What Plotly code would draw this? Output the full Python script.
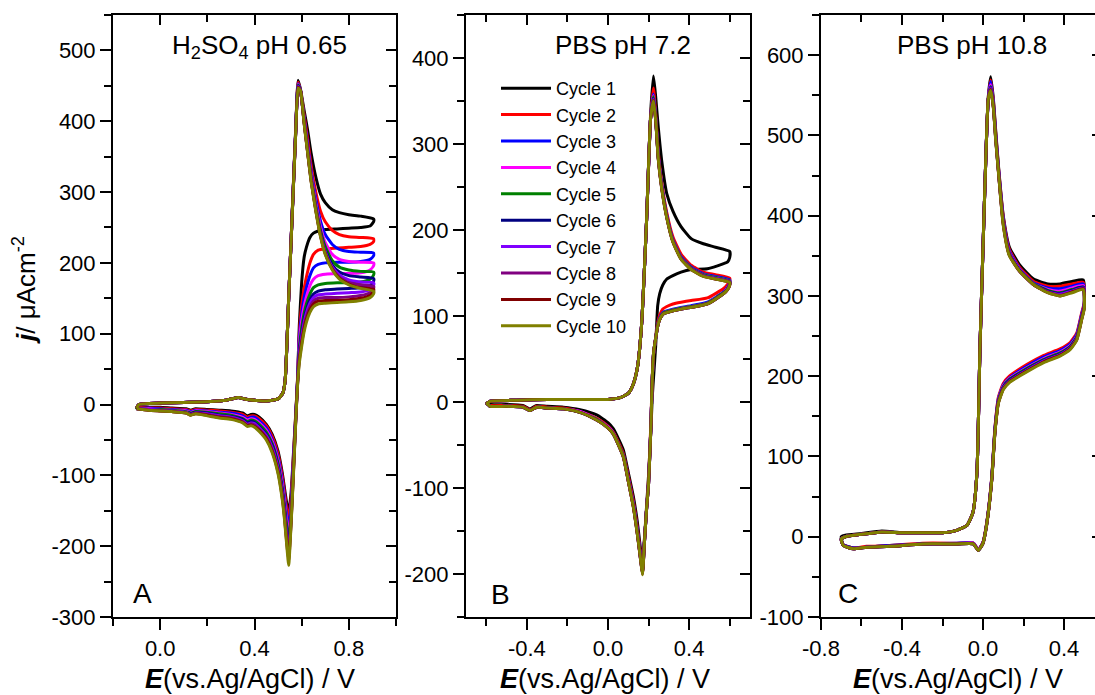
import plotly.graph_objects as go

# ---------------- common ----------------
CYCLE_NAMES = ["Cycle 1", "Cycle 2", "Cycle 3", "Cycle 4", "Cycle 5",
               "Cycle 6", "Cycle 7", "Cycle 8", "Cycle 9", "Cycle 10"]
CYCLE_COLORS = ["#000000", "#FF0000", "#0000FF", "#FF00FF", "#008000",
                "#000080", "#8000FF", "#800080", "#800000", "#808000"]
PANEL_TITLES = ["H<sub>2</sub>SO<sub>4</sub> pH 0.65", "PBS pH 7.2", "PBS pH 10.8"]
PANEL_LABELS = ["A", "B", "C"]

# tick values / labels
A_XTICKS = [0.0, 0.4, 0.8]
A_XLABELS = ["0.0", "0.4", "0.8"]
A_YTICKS = [-300, -200, -100, 0, 100, 200, 300, 400, 500]
A_YLABELS = ["-300", "-200", "-100", "0", "100", "200", "300", "400", "500"]
B_XTICKS = [-0.4, 0.0, 0.4]
B_XLABELS = ["-0.4", "0.0", "0.4"]
B_YTICKS = [-200, -100, 0, 100, 200, 300, 400]
B_YLABELS = ["-200", "-100", "0", "100", "200", "300", "400"]
C_XTICKS = [-0.8, -0.4, 0.0, 0.4]
C_XLABELS = ["-0.8", "-0.4", "0.0", "0.4"]
C_YTICKS = [-100, 0, 100, 200, 300, 400, 500, 600]
C_YLABELS = ["-100", "0", "100", "200", "300", "400", "500", "600"]

# ---------------- panel A: H2SO4 pH 0.65 ----------------
A_E_fwd = [-0.10, -0.09, 0.00, 0.10, 0.20, 0.28, 0.33, 0.37, 0.45, 0.50, 0.52, 0.53,
           0.545, 0.56, 0.575, 0.585, 0.595, 0.61, 0.625, 0.64, 0.66, 0.68, 0.70,
           0.73, 0.76, 0.80, 0.85, 0.905]
A_j_fwd = [
    [-5, 0, 2, 3, 4, 6, 10, 7, 5, 8, 16, 34, 150, 272, 392, 458, 445, 416, 388, 355, 321, 297, 285, 275, 271, 268, 266, 262],
    [-5, 0, 2, 3, 4, 6, 10, 7, 5, 8, 16, 34, 150, 271, 390, 455, 444, 410, 375, 338, 300, 273, 258, 246, 240, 237, 236, 234],
    [-5, 0, 2, 3, 4, 6, 10, 7, 5, 8, 16, 34, 150, 270, 389, 453, 444, 406, 368, 330, 290, 259, 240, 226, 219, 216, 215, 214],
    [-5, 0, 2, 3, 4, 6, 10, 7, 5, 8, 16, 34, 150, 270, 388, 452, 443, 404, 364, 325, 284, 251, 229, 212, 205, 202, 201, 200],
    [-5, 0, 2, 3, 4, 6, 10, 7, 5, 8, 16, 34, 150, 270, 388, 451, 443, 402, 361, 322, 280, 246, 223, 203, 194, 190, 188, 187],
    [-5, 0, 2, 3, 4, 6, 10, 7, 5, 8, 16, 34, 150, 269, 387, 450, 443, 401, 359, 319, 277, 242, 218, 197, 187, 182, 180, 178],
    [-5, 0, 2, 3, 4, 6, 10, 7, 5, 8, 16, 34, 150, 269, 387, 449, 443, 400, 358, 318, 276, 240, 216, 194, 183, 176, 173, 172],
    [-5, 0, 2, 3, 4, 6, 10, 7, 5, 8, 16, 34, 150, 269, 386, 448, 443, 399, 357, 317, 275, 239, 214, 192, 180, 172, 169, 167],
    [-5, 0, 2, 3, 4, 6, 10, 7, 5, 8, 16, 34, 150, 268, 386, 448, 443, 399, 357, 316, 274, 238, 213, 191, 178, 170, 165, 163],
    [-5, 0, 2, 3, 4, 6, 10, 7, 5, 8, 16, 34, 150, 268, 385, 447, 443, 398, 356, 315, 273, 237, 212, 190, 177, 169, 164, 160],
]
A_E_rev = [0.905, 0.89, 0.85, 0.80, 0.75, 0.70, 0.67, 0.65, 0.635, 0.62, 0.61, 0.60, 0.59,
           0.583, 0.575, 0.565, 0.555, 0.545, 0.537, 0.528, 0.518, 0.50, 0.475, 0.45, 0.42,
           0.40, 0.385, 0.37, 0.35, 0.30, 0.25, 0.20, 0.15, 0.13, 0.11, 0.05, 0.0, -0.05, -0.10]
A_j_rev = [
    [258, 252, 250, 249, 248, 247, 245, 242, 236, 222, 207, 172, 112,
     40, -12, -70, -125, -152, -140, -120, -97, -66, -42, -28, -18, -14, -14, -16, -12, -9, -8, -7, -6, -8, -6, -5, -4, -4, -4],
    [230, 226, 223, 222, 221, 220, 218, 212, 200, 180, 163, 140, 100,
     38, -14, -75, -133, -160, -148, -126, -102, -70, -45, -30, -20, -16, -16, -18, -14, -11, -9, -8, -7, -9, -7, -6, -5, -5, -4],
    [210, 205, 202, 201, 201, 200, 198, 193, 182, 165, 150, 128, 95,
     37, -16, -80, -142, -175, -158, -133, -108, -75, -49, -33, -23, -18, -18, -20, -16, -12, -11, -9, -8, -10, -8, -7, -6, -5, -5],
    [196, 190, 186, 185, 185, 184, 182, 177, 168, 152, 138, 118, 88,
     36, -17, -84, -148, -185, -166, -139, -113, -79, -52, -36, -26, -21, -20, -22, -18, -14, -12, -10, -9, -11, -9, -8, -7, -6, -5],
    [183, 177, 173, 172, 172, 171, 169, 165, 156, 142, 128, 108, 80,
     35, -18, -87, -153, -195, -174, -145, -118, -83, -55, -39, -28, -23, -22, -24, -20, -15, -13, -11, -10, -12, -10, -8, -7, -7, -5],
    [174, 168, 165, 164, 163, 162, 160, 156, 148, 134, 120, 100, 74,
     34, -19, -90, -158, -203, -181, -150, -122, -87, -58, -42, -31, -25, -24, -26, -21, -17, -15, -12, -11, -13, -11, -9, -8, -7, -6],
    [168, 162, 159, 158, 157, 156, 155, 151, 143, 129, 115, 95, 70,
     33, -20, -93, -162, -210, -187, -155, -126, -90, -61, -44, -33, -27, -26, -28, -23, -18, -16, -13, -12, -14, -11, -9, -8, -7, -6],
    [164, 158, 154, 152, 151, 151, 150, 146, 138, 124, 110, 90, 66,
     32, -21, -95, -165, -215, -192, -159, -129, -93, -64, -46, -35, -29, -27, -29, -24, -19, -17, -14, -12, -14, -12, -10, -9, -8, -6],
    [160, 154, 150, 148, 147, 147, 146, 142, 134, 120, 106, 86, 62,
     31, -22, -97, -168, -220, -196, -162, -132, -96, -66, -48, -36, -31, -29, -30, -25, -20, -18, -15, -13, -15, -12, -10, -9, -8, -6],
    [156, 151, 147, 145, 144, 143, 142, 138, 130, 116, 102, 82, 58,
     30, -23, -100, -170, -227, -200, -165, -135, -98, -68, -50, -38, -32, -30, -31, -26, -21, -19, -16, -13, -15, -12, -10, -9, -8, -6],
]

# ---------------- panel B: PBS pH 7.2 ----------------
B_E_fwd = [-0.60, -0.58, -0.45, -0.30, -0.15, 0.00, 0.06, 0.10, 0.125, 0.145, 0.165, 0.19,
           0.21, 0.224, 0.235, 0.248, 0.265, 0.29, 0.32, 0.36, 0.41, 0.47, 0.53, 0.60]
B_j_fwd = [
    [-2, 1, 2, 3, 3, 3, 5, 10, 21, 40, 88, 210, 335, 379, 355, 319, 280, 242, 222, 204, 190, 184, 180, 175],
    [-2, 1, 2, 3, 3, 3, 5, 10, 21, 40, 88, 210, 330, 365, 335, 290, 255, 220, 192, 172, 159, 151, 148, 144],
    [-2, 1, 2, 3, 3, 3, 5, 10, 21, 40, 88, 210, 330, 358, 331, 286, 252, 217, 189, 169, 157, 149, 146, 142],
    [-2, 1, 2, 3, 3, 3, 5, 10, 21, 40, 88, 210, 330, 356, 330, 285, 251, 216, 188, 168, 156, 148, 145, 141],
    [-2, 1, 2, 3, 3, 3, 5, 10, 21, 40, 88, 210, 330, 355, 330, 284, 250, 216, 188, 168, 156, 148, 145, 141],
    [-2, 1, 2, 3, 3, 3, 5, 10, 21, 40, 88, 210, 330, 353, 329, 284, 250, 215, 187, 167, 155, 147, 144, 140],
    [-2, 1, 2, 3, 3, 3, 5, 10, 21, 40, 88, 210, 330, 352, 329, 283, 249, 215, 187, 167, 155, 147, 144, 140],
    [-2, 1, 2, 3, 3, 3, 5, 10, 21, 40, 88, 210, 330, 351, 328, 283, 249, 215, 187, 167, 155, 147, 143, 140],
    [-2, 1, 2, 3, 3, 3, 5, 10, 21, 40, 88, 210, 330, 351, 328, 282, 248, 214, 186, 166, 154, 146, 143, 139],
    [-2, 1, 2, 3, 3, 3, 5, 10, 21, 40, 88, 210, 330, 350, 328, 282, 248, 214, 186, 166, 154, 146, 143, 139],
]
B_E_rev = [0.60, 0.59, 0.57, 0.49, 0.41, 0.36, 0.32, 0.29, 0.27, 0.255, 0.245, 0.235, 0.225,
           0.218, 0.212, 0.20, 0.19, 0.18, 0.17, 0.16, 0.145, 0.125, 0.10, 0.076, 0.05, 0.026,
           0.0, -0.056, -0.138, -0.22, -0.30, -0.352, -0.385, -0.42, -0.50, -0.58, -0.60]
B_j_rev = [
    [168, 163, 161, 155, 154, 151, 147, 143, 136, 126, 112, 65, 30, 5, -30, -85, -122, -158, -184, -170, -140, -110, -82, -56, -42, -31, -24, -15, -9, -6, -5, -4, -8, -4, -3, -3, -1],
    [141, 137, 132, 121, 118, 116, 114, 111, 108, 101, 92, 75, 55, 28, -20, -90, -124, -160, -192, -176, -147, -115, -86, -60, -46, -35, -28, -19, -11, -7, -6, -5, -9, -5, -4, -4, -1],
    [139, 134, 128, 116, 112, 110, 108, 106, 104, 98, 90, 74, 57, 26, -23, -93, -125, -161, -196, -179, -150, -118, -89, -62, -48, -36, -29, -20, -11, -8, -7, -6, -10, -6, -5, -5, -1],
    [138, 133, 127, 115, 111, 109, 107, 105, 103, 97, 89, 74, 57, 26, -24, -94, -125, -161, -197, -180, -151, -119, -90, -63, -48, -36, -29, -20, -11, -8, -7, -6, -10, -6, -5, -5, -1],
    [137, 132, 127, 115, 111, 109, 107, 105, 103, 97, 89, 74, 57, 26, -24, -94, -125, -161, -198, -181, -152, -120, -91, -63, -48, -37, -30, -20, -12, -8, -7, -6, -10, -6, -5, -5, -1],
    [137, 132, 126, 114, 110, 108, 106, 104, 102, 96, 88, 74, 58, 25, -25, -95, -125, -162, -199, -181, -153, -121, -91, -64, -49, -37, -30, -21, -12, -8, -7, -6, -10, -6, -5, -5, -1],
    [136, 131, 126, 114, 110, 108, 106, 104, 102, 96, 88, 74, 58, 25, -25, -95, -125, -162, -199, -182, -153, -121, -92, -64, -49, -37, -30, -21, -12, -8, -7, -6, -10, -6, -5, -5, -1],
    [136, 131, 126, 114, 110, 108, 106, 104, 102, 96, 88, 74, 58, 25, -25, -95, -125, -162, -200, -182, -154, -122, -92, -64, -49, -37, -30, -21, -12, -8, -7, -6, -10, -6, -5, -5, -1],
    [136, 131, 126, 114, 110, 108, 106, 104, 102, 96, 88, 74, 58, 25, -25, -95, -125, -162, -200, -182, -154, -122, -92, -64, -49, -37, -30, -21, -12, -8, -7, -6, -10, -6, -5, -5, -1],
    [136, 131, 126, 114, 110, 108, 106, 104, 102, 96, 88, 74, 58, 25, -25, -95, -125, -162, -201, -182, -154, -122, -92, -64, -49, -37, -30, -21, -12, -8, -7, -6, -10, -6, -5, -5, -1],
]

# ---------------- panel C: PBS pH 10.8 ----------------
C_E_fwd = [-0.70, -0.68, -0.60, -0.50, -0.40, -0.30, -0.20, -0.13, -0.08, -0.05, -0.03, -0.015,
           0.0, 0.015, 0.026, 0.038, 0.051, 0.063, 0.076, 0.10, 0.13, 0.18, 0.25, 0.32, 0.38,
           0.44, 0.495]
C_j_fwd = [
    [0, 2, 4, 7, 5, 5, 5, 8, 14, 30, 80, 235, 362, 482, 548, 573, 546, 505, 463, 400, 361, 339, 321, 315, 315, 318, 320],
    [-3, 0, 3, 6, 5, 5, 5, 8, 14, 30, 80, 235, 360, 480, 546, 569, 543, 502, 461, 398, 358, 336, 318, 312, 312, 315, 317],
    [-3, 0, 3, 6, 5, 5, 5, 8, 14, 30, 80, 235, 360, 480, 545, 567, 541, 500, 460, 396, 356, 334, 316, 310, 309, 312, 315],
    [-3, 0, 3, 6, 5, 5, 5, 8, 14, 30, 80, 235, 360, 480, 545, 563, 539, 498, 458, 394, 354, 333, 315, 308, 306, 310, 313],
    [-3, 0, 3, 6, 5, 5, 5, 8, 14, 30, 80, 235, 360, 480, 545, 561, 538, 497, 457, 393, 353, 332, 315, 307, 304, 308, 311],
    [-3, 0, 3, 6, 5, 5, 5, 8, 14, 30, 80, 235, 360, 480, 545, 560, 537, 496, 457, 392, 352, 332, 314, 306, 303, 307, 311],
    [-3, 0, 3, 6, 5, 5, 5, 8, 14, 30, 80, 235, 360, 480, 545, 559, 536, 495, 456, 391, 352, 331, 314, 305, 302, 306, 310],
    [-3, 0, 3, 6, 5, 5, 5, 8, 14, 30, 80, 235, 360, 480, 545, 558, 536, 495, 456, 390, 351, 331, 314, 305, 301, 305, 309],
    [-3, 0, 3, 6, 5, 5, 5, 8, 14, 30, 80, 235, 360, 480, 545, 557, 535, 494, 455, 389, 351, 331, 314, 304, 300, 305, 309],
    [-3, 0, 3, 6, 5, 5, 5, 8, 14, 30, 80, 235, 360, 480, 545, 556, 535, 493, 455, 388, 350, 331, 314, 304, 300, 304, 308],
]
C_E_rev = [0.50, 0.487, 0.463, 0.43, 0.38, 0.30, 0.22, 0.13, 0.10, 0.076, 0.059, 0.043, 0.018,
           0.0, -0.023, -0.048, -0.13, -0.30, -0.46, -0.575, -0.64, -0.69, -0.70]
C_j_rev = [
    [290, 274, 249, 236, 228, 220, 209, 195, 186, 169, 132, 72, 16, -7, -16, -8, -9, -9, -11, -13, -14, -10, 0],
    [292, 279, 254, 242, 234, 226, 215, 200, 191, 174, 136, 74, 17, -7, -16, -8, -8, -8, -11, -12, -14, -10, -3],
    [290, 277, 252, 240, 232, 224, 213, 198, 189, 172, 135, 73, 16, -7, -16, -8, -8, -9, -11, -13, -14, -10, -3],
    [289, 275, 250, 238, 230, 222, 211, 197, 188, 171, 134, 72, 16, -7, -16, -8, -9, -9, -12, -13, -15, -11, -3],
    [288, 274, 249, 237, 229, 221, 210, 196, 187, 170, 133, 72, 16, -8, -17, -9, -9, -9, -12, -13, -15, -11, -3],
    [287, 273, 248, 236, 228, 220, 209, 195, 186, 169, 132, 71, 15, -8, -17, -9, -9, -9, -12, -13, -15, -11, -3],
    [286, 272, 247, 235, 227, 219, 208, 194, 185, 168, 131, 71, 15, -8, -17, -9, -9, -9, -12, -13, -15, -11, -3],
    [286, 271, 246, 234, 226, 218, 207, 193, 184, 167, 131, 70, 15, -8, -17, -9, -9, -9, -12, -13, -15, -11, -3],
    [285, 271, 246, 234, 226, 218, 207, 193, 184, 167, 130, 70, 15, -8, -17, -9, -9, -9, -12, -13, -15, -11, -3],
    [284, 270, 245, 233, 225, 217, 206, 192, 183, 166, 130, 70, 15, -8, -17, -9, -9, -9, -12, -13, -15, -11, -3],
]

# ---------------- axes specs ----------------
X_RANGES = [[-0.2, 1.0], [-0.7, 0.7], [-0.8, 0.553]]
Y_RANGES = [[-300, 550], [-250, 450], [-100, 650]]
X_DOMAINS = [[0.10320, 0.36164], [0.42557, 0.68493], [0.74977, 1.0]]
Y_DOMAIN = [0.11223, 0.97842]
X_TICKS = [(A_XTICKS, A_XLABELS), (B_XTICKS, B_XLABELS), (C_XTICKS, C_XLABELS)]
Y_TICKS = [(A_YTICKS, A_YLABELS), (B_YTICKS, B_YLABELS), (C_YTICKS, C_YLABELS)]

FONT = "Liberation Sans, Arial, Helvetica, sans-serif"
W, H = 1095, 695

fig = go.Figure()

panels = [
    (A_E_fwd, A_j_fwd, A_E_rev, A_j_rev),
    (B_E_fwd, B_j_fwd, B_E_rev, B_j_rev),
    (C_E_fwd, C_j_fwd, C_E_rev, C_j_rev),
]
for p, (Ef, jf, Er, jr) in enumerate(panels):
    xa = "x" if p == 0 else f"x{p+1}"
    ya = "y" if p == 0 else f"y{p+1}"
    for k in range(10):
        fig.add_trace(go.Scatter(
            x=list(Ef) + list(Er), y=list(jf[k]) + list(jr[k]),
            xaxis=xa, yaxis=ya, mode="lines",
            line=dict(color=CYCLE_COLORS[k], width=3, shape="spline", smoothing=0.5),
            name=CYCLE_NAMES[k], showlegend=(p == 1), hoverinfo="skip",
        ))

tick_common = dict(showline=True, linecolor="black", linewidth=2, mirror=False,
                   showgrid=False, zeroline=False, ticks="outside", ticklen=11,
                   tickwidth=2, tickcolor="black",
                   tickfont=dict(family=FONT, size=22, color="black"),
                   automargin=False)

layout = dict(width=W, height=H, margin=dict(l=0, r=0, t=0, b=0),
              plot_bgcolor="white", paper_bgcolor="white",
              font=dict(family=FONT, color="black"))

for p in range(3):
    sx = "" if p == 0 else str(p + 1)
    xt, xl = X_TICKS[p]
    yt, yl = Y_TICKS[p]
    layout["xaxis" + sx] = dict(tick_common, domain=X_DOMAINS[p], range=X_RANGES[p],
                                anchor="y" + sx, tickmode="array", tickvals=xt, ticktext=xl,
                                minor=dict(ticks="outside", ticklen=7, tickwidth=2,
                                           tickcolor="black", tickmode="linear",
                                           tick0=0, dtick=0.2))
    layout["yaxis" + sx] = dict(tick_common, domain=Y_DOMAIN, range=Y_RANGES[p],
                                anchor="x" + sx, tickmode="array", tickvals=yt, ticktext=yl,
                                minor=dict(ticks="outside", ticklen=7, tickwidth=2,
                                           tickcolor="black", tickmode="linear",
                                           tick0=0, dtick=50))
    # mirrored frame with inward ticks
    ox = str(p + 4)
    layout["xaxis" + ox] = dict(overlaying="x" + sx, anchor="y" + sx, side="top",
                                range=X_RANGES[p], showline=True, linecolor="black",
                                linewidth=2, showgrid=False, zeroline=False,
                                ticks="inside", ticklen=10, tickwidth=2, tickcolor="black",
                                tickmode="array", tickvals=xt, showticklabels=False,
                                minor=dict(ticks="inside", ticklen=7, tickwidth=2,
                                           tickcolor="black", tickmode="linear",
                                           tick0=0, dtick=0.2))
    right = dict(overlaying="y" + sx, anchor="x" + sx, side="right",
                 range=Y_RANGES[p], showline=(p != 2), linecolor="black",
                 linewidth=2, showgrid=False, zeroline=False,
                 ticks="inside", ticklen=(10 if p != 2 else 3), tickwidth=2,
                 tickcolor="black", tickmode="array", tickvals=yt, showticklabels=False)
    if p != 2:
        right["minor"] = dict(ticks="inside", ticklen=7, tickwidth=2,
                              tickcolor="black", tickmode="linear", tick0=0, dtick=50)
    layout["yaxis" + ox] = right

fig.update_layout(**layout)

# empty traces so the mirror axes are drawn
for p in range(3):
    ox = str(p + 4)
    sx = "" if p == 0 else str(p + 1)
    fig.add_trace(go.Scatter(x=[], y=[], xaxis="x" + ox, yaxis="y" + sx,
                             showlegend=False, hoverinfo="skip"))
    fig.add_trace(go.Scatter(x=[], y=[], xaxis="x" + sx, yaxis="y" + ox,
                             showlegend=False, hoverinfo="skip"))

annotations = []
title_pos = [(259, 47), (623, 45), (972, 45)]
label_pos = [(142, 593), (500, 594), (848, 593)]
xtitle_pos = [(250, 679), (605, 679), (958, 679)]
for p in range(3):
    tx, ty = title_pos[p]
    annotations.append(dict(text=PANEL_TITLES[p], x=tx / W, y=1 - ty / H, xref="paper",
                            yref="paper", showarrow=False, xanchor="center", yanchor="middle",
                            font=dict(family=FONT, size=26, color="black")))
    lx, ly = label_pos[p]
    annotations.append(dict(text=PANEL_LABELS[p], x=lx / W, y=1 - ly / H, xref="paper",
                            yref="paper", showarrow=False, xanchor="center", yanchor="middle",
                            font=dict(family=FONT, size=28, color="black")))
    ax, ay = xtitle_pos[p]
    annotations.append(dict(text="<b><i>E</i></b>(vs.Ag/AgCl) / V", x=ax / W, y=1 - ay / H,
                            xref="paper", yref="paper", showarrow=False, xanchor="center",
                            yanchor="middle", font=dict(family=FONT, size=27, color="black")))
annotations.append(dict(text="<b><i>j</i></b>/ μAcm<sup>-2</sup>", x=24 / W, y=1 - 290 / H,
                        xref="paper", yref="paper", showarrow=False, textangle=-90,
                        xanchor="center", yanchor="middle",
                        font=dict(family=FONT, size=26, color="black")))

fig.update_layout(
    annotations=annotations,
    showlegend=True,
    legend=dict(x=496 / W, y=1 - 70 / H, xanchor="left", yanchor="top",
                bgcolor="rgba(0,0,0,0)", borderwidth=0, itemwidth=50,
                font=dict(family=FONT, size=18, color="black"), tracegroupgap=0),
    hovermode=False,
)

fig.write_html("out.html", config={"displayModeBar": False},
               post_script="document.body.style.margin='0px';document.body.style.overflow='hidden';")
